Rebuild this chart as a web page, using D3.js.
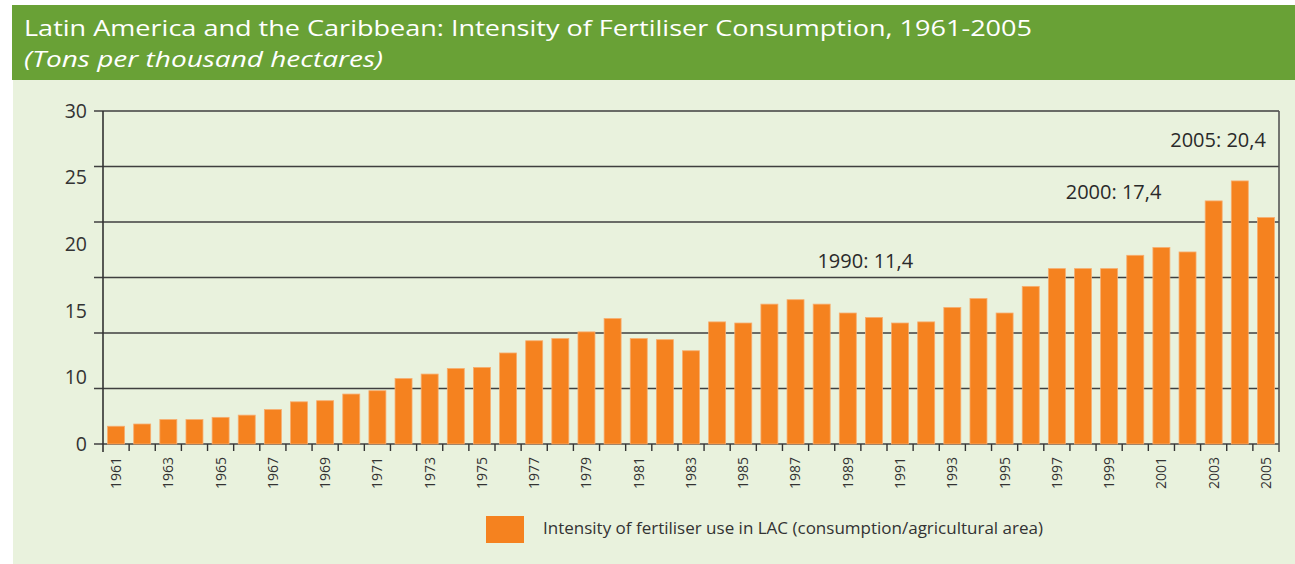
<!DOCTYPE html>
<html>
<head>
<meta charset="utf-8">
<script src="https://cdn.jsdelivr.net/npm/d3@7"></script>
<style>
  body { margin: 0; background: #fff; }
  svg { display: block; }
</style>
</head>
<body>
<svg class="chart"></svg>
<script>
// data
var years = d3.range(1961, 2006);
var values = [1.6, 1.8, 2.2, 2.2, 2.4, 2.6, 3.1, 3.8, 3.9, 4.5,
              4.8, 5.9, 6.3, 6.8, 6.9, 8.2, 9.3, 9.5, 10.1, 11.3,
              9.5, 9.4, 8.4, 11.0, 10.9, 12.6, 13.0, 12.6, 11.8, 11.4,
              10.9, 11.0, 12.3, 13.1, 11.8, 14.2, 15.8, 15.8, 15.8, 17.0,
              17.7, 17.3, 21.9, 23.7, 20.4];
var gridValues = [0, 5, 10, 15, 20, 25, 30];
// the y labels in the original sit off the gridlines
var yLabelText = ["0", "10", "15", "20", "25", "30"];
var yLabelAt = [0, 6, 12, 18, 24, 30];
var noteText = ["1990: 11,4", "2000: 17,4", "2005: 20,4"];
var noteYear = [1991.5, 2001, 2005];
var noteLevel = [15.9, 22.1, 26.8];

var W = 1295, H = 564;
var svg = d3.select(".chart").attr("width", W).attr("height", H);
var font = "'Open Sans', 'DejaVu Sans', sans-serif";

// header + panel
svg.append("rect").attr("x", 12).attr("y", 5).attr("width", W - 12).attr("height", 75).attr("fill", "#69a136");
svg.append("rect").attr("x", 13).attr("y", 80).attr("width", W - 13).attr("height", H - 80).attr("fill", "#e9f2dd");

svg.append("text")
  .attr("x", 24).attr("y", 36)
  .attr("font-family", "'Liberation Sans Narrow', 'Open Sans', sans-serif")
  .attr("font-size", 22)
  .attr("fill", "#fff")
  .attr("textLength", 1008).attr("lengthAdjust", "spacingAndGlyphs")
  .text("Latin America and the Caribbean: Intensity of Fertiliser Consumption, 1961-2005");
svg.append("text")
  .attr("x", 24).attr("y", 67)
  .attr("font-family", "'Liberation Sans Narrow', 'Open Sans', sans-serif")
  .attr("font-style", "italic")
  .attr("font-size", 22)
  .attr("fill", "#fff")
  .attr("textLength", 359).attr("lengthAdjust", "spacingAndGlyphs")
  .text("(Tons per thousand hectares)");

var margin = {left: 103, top: 111, right: 1279, bottom: 444};
var width = margin.right - margin.left, height = margin.bottom - margin.top;
var chart = svg.append("g").attr("transform", "translate(" + margin.left + "," + margin.top + ")");

var xChart = d3.scaleBand().domain(years).range([0, width]).paddingInner(0.35).paddingOuter(0.175);
var yChart = d3.scaleLinear().domain([0, 30]).range([height, 0]);

// gridlines
chart.selectAll(".grid").data(gridValues).enter()
  .append("line")
  .attr("class", "grid")
  .attr("x1", -9).attr("x2", width)
  .attr("y1", function(d){ return yChart(d); })
  .attr("y2", function(d){ return yChart(d); })
  .attr("stroke", "#3f3f3f").attr("stroke-width", 1.6);

// bars
chart.selectAll(".bar").data(values).enter()
  .append("rect")
  .attr("class", "bar")
  .attr("x", function(d, i){ return xChart(years[i]); })
  .attr("y", function(d){ return yChart(d); })
  .attr("width", xChart.bandwidth())
  .attr("height", function(d){ return height - yChart(d); })
  .attr("fill", "#f5821f")
  .attr("stroke", "#f8ad6e").attr("stroke-width", 0.8);

// axis frame
chart.append("line").attr("x1", 0).attr("x2", 0).attr("y1", 0).attr("y2", height + 8)
  .attr("stroke", "#333").attr("stroke-width", 1.6);
chart.append("line").attr("x1", width).attr("x2", width).attr("y1", 0).attr("y2", height + 8)
  .attr("stroke", "#555").attr("stroke-width", 1.6);

// boundary ticks between bars
var step = xChart.step();
chart.selectAll(".btick").data(years.slice(1)).enter()
  .append("line")
  .attr("class", "btick")
  .attr("x1", function(d){ return xChart(d) - xChart.paddingInner() * step / 2; })
  .attr("x2", function(d){ return xChart(d) - xChart.paddingInner() * step / 2; })
  .attr("y1", height).attr("y2", height + 7)
  .attr("stroke", "#333").attr("stroke-width", 1.4);

// x labels
var xAxis = d3.axisBottom(xChart)
  .tickValues(years.filter(function(y){ return y % 2 === 1; }))
  .tickSize(0);
var gx = chart.append("g")
  .attr("transform", "translate(0," + height + ")")
  .call(xAxis);
gx.select(".domain").remove();
gx.selectAll("text")
  .attr("font-family", font)
  .attr("font-size", 14)
  .attr("fill", "#333")
  .style("text-anchor", "end")
  .attr("x", -13).attr("y", 0).attr("dy", "0.35em")
  .attr("transform", "rotate(-90)");

// y labels
var yAxis = d3.axisLeft(yChart)
  .tickValues(yLabelAt)
  .tickFormat(function(d, i){ return yLabelText[i]; })
  .tickSize(0).tickPadding(16);
var gy = chart.append("g").call(yAxis);
gy.select(".domain").remove();
gy.selectAll("text")
  .attr("font-family", font)
  .attr("font-size", 19.5)
  .attr("fill", "#333");

// annotations, anchored at a year position
function yearX(y){ return xChart(years[0]) + (y - years[0]) * step + xChart.bandwidth() / 2; }
chart.selectAll(".note").data(noteText).enter()
  .append("text")
  .attr("class", "note")
  .attr("x", function(d, i){ return yearX(noteYear[i]); })
  .attr("y", function(d, i){ return yChart(noteLevel[i]); })
  .attr("text-anchor", "end")
  .attr("font-family", font)
  .attr("font-size", 20)
  .attr("fill", "#2a2a2a")
  .text(function(d){ return d; });

// legend
svg.append("rect").attr("x", 486).attr("y", 516).attr("width", 38).attr("height", 27).attr("fill", "#f5821f");
svg.append("text")
  .attr("x", 543).attr("y", 528).attr("dy", "0.35em")
  .attr("font-family", font)
  .attr("font-size", 17)
  .attr("fill", "#333")
  .text("Intensity of fertiliser use in LAC (consumption/agricultural area)");
</script>
</body>
</html>
